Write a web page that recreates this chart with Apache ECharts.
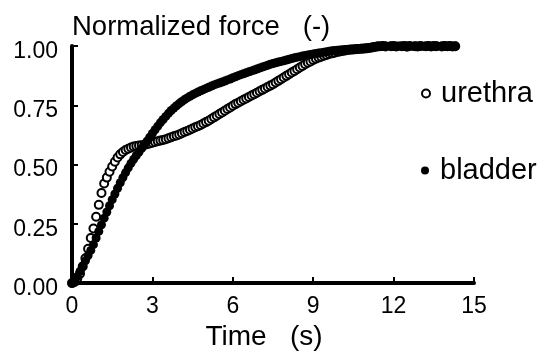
<!DOCTYPE html>
<html>
<head>
<meta charset="utf-8">
<script src="https://cdn.jsdelivr.net/npm/echarts@6/dist/echarts.min.js"></script>
<style>html,body{margin:0;padding:0;background:#fff;}#c{width:541px;height:356px;}</style>
</head>
<body>
<div id="c"></div>
<script>
var time = [0.0,0.1,0.2,0.3,0.4,0.5,0.6,0.7,0.8,0.9,
1.0,1.1,1.2,1.3,1.4,1.5,1.6,1.7,1.8,1.9,
2.0,2.1,2.2,2.3,2.4,2.5,2.6,2.7,2.8,2.9,
3.0,3.1,3.2,3.3,3.4,3.5,3.6,3.7,3.8,3.9,
4.0,4.1,4.2,4.3,4.4,4.5,4.6,4.7,4.8,4.9,
5.0,5.1,5.2,5.3,5.4,5.5,5.6,5.7,5.8,5.9,
6.0,6.1,6.2,6.3,6.4,6.5,6.6,6.7,6.8,6.9,
7.0,7.1,7.2,7.3,7.4,7.5,7.6,7.7,7.8,7.9,
8.0,8.1,8.2,8.3,8.4,8.5,8.6,8.7,8.8,8.9,
9.0,9.1,9.2,9.3,9.4,9.5,9.6,9.7,9.8,9.9,
10.0,10.1,10.2,10.3,10.4,10.5,10.6,10.7,10.8,10.9,
11.0,11.1,11.2,11.3,11.4,11.5,11.6,11.7,11.8,11.9,
12.0,12.1,12.2,12.3,12.4,12.5,12.6,12.7,12.8,12.9,
13.0,13.1,13.2,13.3,13.4,13.5,13.6,13.7,13.8,13.9,
14.0,14.1,14.2,14.3];

var urethra = [0.000,0.005,0.020,0.040,0.070,0.105,0.145,0.190,0.230,0.280,
0.330,0.380,0.420,0.445,0.470,0.492,0.512,0.530,0.543,0.553,
0.561,0.567,0.572,0.576,0.578,0.580,0.581,0.583,0.586,0.589,
0.592,0.595,0.598,0.601,0.604,0.607,0.611,0.615,0.619,0.623,
0.627,0.632,0.637,0.642,0.647,0.652,0.657,0.662,0.667,0.673,
0.679,0.685,0.692,0.699,0.706,0.713,0.720,0.727,0.734,0.741,
0.748,0.755,0.761,0.767,0.773,0.779,0.785,0.791,0.797,0.803,
0.809,0.815,0.821,0.827,0.833,0.839,0.846,0.853,0.860,0.867,
0.874,0.881,0.888,0.895,0.902,0.909,0.916,0.923,0.929,0.935,
0.941,0.946,0.951,0.955,0.959,0.962,0.966,0.969,0.972,0.975,
0.977,0.979,0.981,0.983,0.984,0.985,0.986,0.987,0.988,0.989,
0.990,0.992,0.994,0.996,0.998,0.999,1.000,0.998,1.001,0.999,
1.000,0.998,1.001,0.999,1.000,0.997,1.000,1.001,0.999,0.998,
1.000,1.001,0.999,1.000,0.998,1.000,0.999,1.001,0.998,1.000,
0.999,1.000,0.998,0.999];

var bladder = [0.000,0.010,0.028,0.050,0.072,0.094,0.116,0.138,0.162,0.190,
0.218,0.246,0.274,0.300,0.326,0.352,0.376,0.400,0.423,0.445,
0.466,0.486,0.505,0.522,0.538,0.553,0.568,0.583,0.599,0.615,
0.631,0.647,0.662,0.677,0.690,0.703,0.716,0.728,0.738,0.748,
0.757,0.766,0.774,0.781,0.788,0.794,0.800,0.806,0.811,0.816,
0.821,0.826,0.831,0.836,0.840,0.844,0.848,0.852,0.857,0.861,
0.866,0.870,0.875,0.879,0.883,0.887,0.891,0.895,0.899,0.903,
0.907,0.911,0.915,0.919,0.923,0.926,0.929,0.932,0.935,0.938,
0.941,0.944,0.947,0.950,0.953,0.955,0.958,0.960,0.962,0.964,
0.966,0.968,0.970,0.972,0.974,0.976,0.978,0.980,0.981,0.982,
0.983,0.984,0.985,0.986,0.987,0.987,0.988,0.989,0.990,0.991,
0.992,0.994,0.996,0.998,1.000,1.001,0.999,1.000,1.002,1.000,
0.999,1.001,1.000,1.002,0.999,1.000,1.001,0.999,1.000,1.002,
1.000,0.999,1.001,1.000,1.002,0.999,1.000,1.001,1.000,0.999,
1.001,1.000,0.999,1.000];

var xTicks = [0, 3, 6, 9, 12, 15];
var yTicks = [0, 0.25, 0.5, 0.75, 1.0];
var xTitle = 'Time   (s)';
var yTitle = 'Normalized force   (-)';
var seriesNames = ['urethra', 'bladder'];

function pairs(xs, ys) { return xs.map(function (x, i) { return [x, ys[i]]; }); }

var FONT = '"Liberation Sans", Arial, sans-serif';
var chart = echarts.init(document.getElementById('c'), null, { renderer: 'canvas' });
chart.setOption({
  animation: false,
  backgroundColor: '#fff',
  title: {
    text: yTitle, left: 72, top: 13, padding: 0,
    textStyle: { fontFamily: FONT, fontSize: 27.5, fontWeight: 'normal', color: '#000' }
  },
  grid: { left: 72, right: 67, top: 46, bottom: 72 },
  legend: [
    { data: [seriesNames[0]], left: 421, top: 79, padding: 0, itemWidth: 8, itemHeight: 8,
      textStyle: { fontFamily: FONT, fontSize: 29, color: '#000', padding: [0, 0, 0, 6] } },
    { data: [seriesNames[1]], left: 421, top: 156, padding: 0, itemWidth: 8, itemHeight: 8,
      textStyle: { fontFamily: FONT, fontSize: 29, color: '#000', padding: [0, 0, 0, 6] } }
  ],
  xAxis: {
    type: 'value', min: xTicks[0], max: xTicks[xTicks.length - 1], interval: 3,
    name: xTitle, nameLocation: 'middle', nameGap: 38,
    nameTextStyle: { fontFamily: FONT, fontSize: 28, color: '#000', padding: [0, 18, 0, 0] },
    axisLine: { lineStyle: { color: '#000', width: 4 } },
    axisTick: { inside: true, length: 6, lineStyle: { color: '#000', width: 2 } },
    axisLabel: { fontFamily: FONT, fontSize: 23, color: '#000', margin: 12 },
    splitLine: { show: false }
  },
  yAxis: {
    type: 'value', min: yTicks[0], max: yTicks[yTicks.length - 1], interval: 0.25,
    axisLine: { lineStyle: { color: '#000', width: 4 } },
    axisTick: { inside: true, length: 6, lineStyle: { color: '#000', width: 2 } },
    axisLabel: { fontFamily: FONT, fontSize: 23, color: '#000', margin: 14,
      verticalAlign: 'top', lineHeight: 11,
      formatter: function (v) { return v.toFixed(2); } },
    splitLine: { show: false }
  },
  series: [
    { name: seriesNames[0], type: 'scatter', symbol: 'emptyCircle', symbolSize: 8,
      itemStyle: { color: '#000', borderColor: '#000', borderWidth: 2.2, opacity: 1 },
      data: pairs(time, urethra) },
    { name: seriesNames[1], type: 'scatter', symbol: 'circle', symbolSize: 9,
      itemStyle: { color: '#000', opacity: 1 },
      data: pairs(time, bladder) }
  ]
});
</script>
</body>
</html>
